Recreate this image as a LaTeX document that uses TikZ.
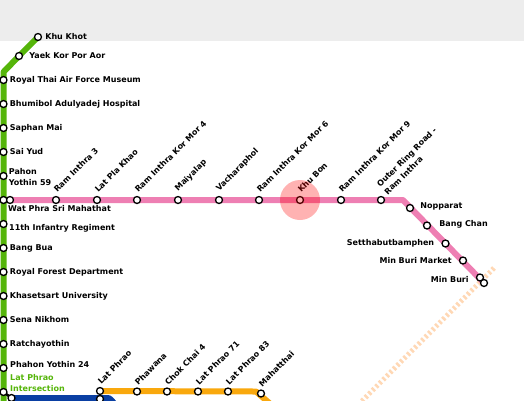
\documentclass[tikz,border=0pt]{standalone}
\usepackage{fontspec}
\setmainfont{DejaVu Sans}
\usetikzlibrary{positioning, backgrounds}
\definecolor{greenline}{HTML}{55B50A}
\definecolor{pinkline}{HTML}{EE7FB3}
\definecolor{orangeline}{HTML}{F9A80D}
\definecolor{blueline}{HTML}{0A3FA3}
\definecolor{futureline}{HTML}{FFD8B5}

\begin{document}
\begin{tikzpicture}[x=1pt, y=-1pt, node distance=2pt,
  every node/.style={font=\bfseries\fontsize{8}{10.6}\selectfont},
  stn/.style={draw=black, fill=white, circle, line width=1.3pt, inner sep=0pt, minimum size=7pt},
  lbl/.style={inner sep=0pt, align=left},
  tilt/.style={inner sep=0pt, align=left, rotate=45},
  track/.style={line width=6pt, line join=round}]
  \useasboundingbox (0,0) rectangle (524,400);
  \clip (0,0) rectangle (524,400);

  % green line
  \node[stn] (khuKhot) at (38,37) {};
  \node[stn] (yaekKorPorAor) at (19,56) {};
  \node[stn] (royalThai) at (3.5,80) {};
  \node[stn] (bhumibol) at (3.5,104) {};
  \node[stn] (saphanMai) at (3.5,128) {};
  \node[stn] (saiYud) at (3.5,152) {};
  \node[stn] (pahonYothin) at (3.5,176) {};
  \node[stn] (watPhraA) at (3.5,200) {};
  \node[stn] (infantry) at (3.5,224) {};
  \node[stn] (bangBua) at (3.5,248) {};
  \node[stn] (forestDept) at (3.5,272) {};
  \node[stn] (khasetsart) at (3.5,296) {};
  \node[stn] (senaNikhom) at (3.5,320) {};
  \node[stn] (ratchayothin) at (3.5,344) {};
  \node[stn] (phahonYothin) at (3.5,368) {};
  \node[stn] (latPhraoX) at (3.5,392) {};
  \node[stn] (latPhraoY) at (11.5,398) {};

  % pink line
  \node[stn] (watPhraB) at (10,200) {};
  \node[stn] (ramInthraThree) at (56,200) {};
  \node[stn] (latPlaKhao) at (97,200) {};
  \node[stn] (korMorFour) at (137,200) {};
  \node[stn] (maiyalap) at (178,200) {};
  \node[stn] (vacharaphol) at (219,200) {};
  \node[stn] (korMorSix) at (259,200) {};
  \node[stn] (khuBon) at (300,200) {};
  \node[stn] (korMorNine) at (341,200) {};
  \node[stn] (outerRing) at (381,200) {};
  \node[stn] (nopparat) at (410,208) {};
  \node[stn] (bangChan) at (427,225.5) {};
  \node[stn] (setthabut) at (445.5,243.5) {};
  \node[stn] (minBuriMarket) at (463,260.5) {};
  \node[stn] (minBuriA) at (480,277.5) {};
  \node[stn] (minBuriB) at (484,283) {};
  \coordinate (pinkBend) at (403,200);

  % orange line
  \node[stn] (latPhraoA) at (100,391) {};
  \node[stn] (latPhraoB) at (100,399) {};
  \node[stn] (phawana) at (137,391.5) {};
  \node[stn] (chokChai) at (167,391.5) {};
  \node[stn] (latPhraoSeventyOne) at (198,391.5) {};
  \node[stn] (latPhraoEightyThree) at (228,391.5) {};
  \node[stn] (mahatthai) at (261,393.5) {};
  \coordinate (orangeBend) at (256,391.5);
  \coordinate (orangeEnd) at (275,408);
  \coordinate (greenBend) at (3.5,72);
  \coordinate (greenEnd) at (3.5,405);
  \coordinate (futureA) at (494,268);
  \coordinate (futureB) at (360,403);

  \node[lbl, right=3pt of khuKhot] (khuKhotLbl) {Khu Khot};
  \node[lbl, right=6pt of yaekKorPorAor] (yaekKorPorAorLbl) {Yaek Kor Por Aor};
  \node[lbl, right=2pt of royalThai] (royalThaiLbl) {Royal Thai Air Force Museum};
  \node[lbl, right=2pt of bhumibol] (bhumibolLbl) {Bhumibol Adulyadej Hospital};
  \node[lbl, right=2pt of saphanMai] (saphanMaiLbl) {Saphan Mai};
  \node[lbl, right=2pt of saiYud] (saiYudLbl) {Sai Yud};
  \node[lbl, right=1pt of pahonYothin, yshift=-1pt] (pahonYothinLbl) {Pahon\\Yothin 59};
  \node[lbl, anchor=west] (watPhraLbl) at (8,209) {Wat Phra Sri Mahathat};
  \node[lbl, anchor=west] (infantryLbl) at (9,228) {11th Infantry Regiment};
  \node[lbl, right=2pt of bangBua] (bangBuaLbl) {Bang Bua};
  \node[lbl, right=2pt of forestDept] (forestDeptLbl) {Royal Forest Department};
  \node[lbl, right=2pt of khasetsart] (khasetsartLbl) {Khasetsart University};
  \node[lbl, right=2pt of senaNikhom] (senaNikhomLbl) {Sena Nikhom};
  \node[lbl, right=2pt of ratchayothin] (ratchayothinLbl) {Ratchayothin};
  \node[lbl, anchor=west] (phahonYothinLbl) at (10,364.5) {Phahon Yothin 24};
  \node[lbl, anchor=west, text=greenline] (latPhraoXLbl) at (10,383) {Lat Phrao\\Intersection};

  \node[tilt, above right=4pt and -1.5pt of ramInthraThree] (ramInthraThreeLbl) {Ram Inthra 3};
  \node[tilt, above right=4pt and -1.5pt of latPlaKhao] (latPlaKhaoLbl) {Lat Pla Khao};
  \node[tilt, above right=4pt and -1.5pt of korMorFour] (korMorFourLbl) {Ram Inthra Kor Mor 4};
  \node[tilt, above right=4pt and -1.5pt of maiyalap] (maiyalapLbl) {Maiyalap};
  \node[tilt, above right=4pt and -1.5pt of vacharaphol] (vacharapholLbl) {Vacharaphol};
  \node[tilt, above right=4pt and -1.5pt of korMorSix] (korMorSixLbl) {Ram Inthra Kor Mor 6};
  \node[tilt, above right=4pt and -1.5pt of khuBon] (khuBonLbl) {Khu Bon};
  \node[tilt, above right=4pt and -1.5pt of korMorNine] (korMorNineLbl) {Ram Inthra Kor Mor 9};
  \node[tilt, above right=1.5pt and 4pt of outerRing] (outerRingLbl) {Outer Ring Road -\\Ram Inthra};
  \node[lbl, right=6pt of nopparat, yshift=1.5pt] (nopparatLbl) {Nopparat};
  \node[lbl, right=8pt of bangChan, yshift=1pt] (bangChanLbl) {Bang Chan};
  \node[lbl, left=7pt of setthabut] (setthabutLbl) {Setthabutbamphen};
  \node[lbl, left=7pt of minBuriMarket] (minBuriMarketLbl) {Min Buri Market};
  \node[lbl, left=7pt of minBuriA, yshift=-2.5pt] (minBuriLbl) {Min Buri};

  \node[tilt, above right=3pt and -1.5pt of latPhraoA] (latPhraoLbl) {Lat Phrao};
  \node[tilt, above right=3pt and -1.5pt of phawana] (phawanaLbl) {Phawana};
  \node[tilt, above right=3pt and -1.5pt of chokChai] (chokChaiLbl) {Chok Chai 4};
  \node[tilt, above right=3pt and -1.5pt of latPhraoSeventyOne] (latPhraoSeventyOneLbl) {Lat Phrao 71};
  \node[tilt, above right=3pt and -1.5pt of latPhraoEightyThree] (latPhraoEightyThreeLbl) {Lat Phrao 83};
  \node[tilt, above right=3pt and -1.5pt of mahatthai] (mahatthaiLbl) {Mahatthai};

  \begin{scope}[on background layer]
    \fill[black!7] (0,0) rectangle (524,41);
    \draw[futureline, line width=5pt, dash pattern=on 2.5pt off 2.5pt] (futureA) -- (futureB);
    \fill[blueline] (11,395) -- (108,395) to[out=0, in=-135] (123,404) -- (11,404) -- cycle;
    \draw[track, greenline] (khuKhot.center) -- (yaekKorPorAor.center) -- (greenBend) -- (greenEnd);
    \draw[track, pinkline] (watPhraB.center) -- (outerRing.center) -- (pinkBend) -- (minBuriB.center);
    \draw[track, orangeline] (latPhraoA.center) -- (orangeBend) -- (orangeEnd);
    \draw[line width=2.5pt] (watPhraA.center) -- (watPhraB.center);
    \draw[line width=2.5pt] (latPhraoX.center) -- (latPhraoY.center);
    \draw[line width=2.5pt] (latPhraoA.center) -- (latPhraoB.center);
    \draw[line width=2.5pt] (minBuriA.center) -- (minBuriB.center);
  \end{scope}

  \node[circle, fill=red, fill opacity=0.3, minimum size=40pt, inner sep=0pt] (khuBonMark) at (khuBon) {};
\end{tikzpicture}
\end{document}
